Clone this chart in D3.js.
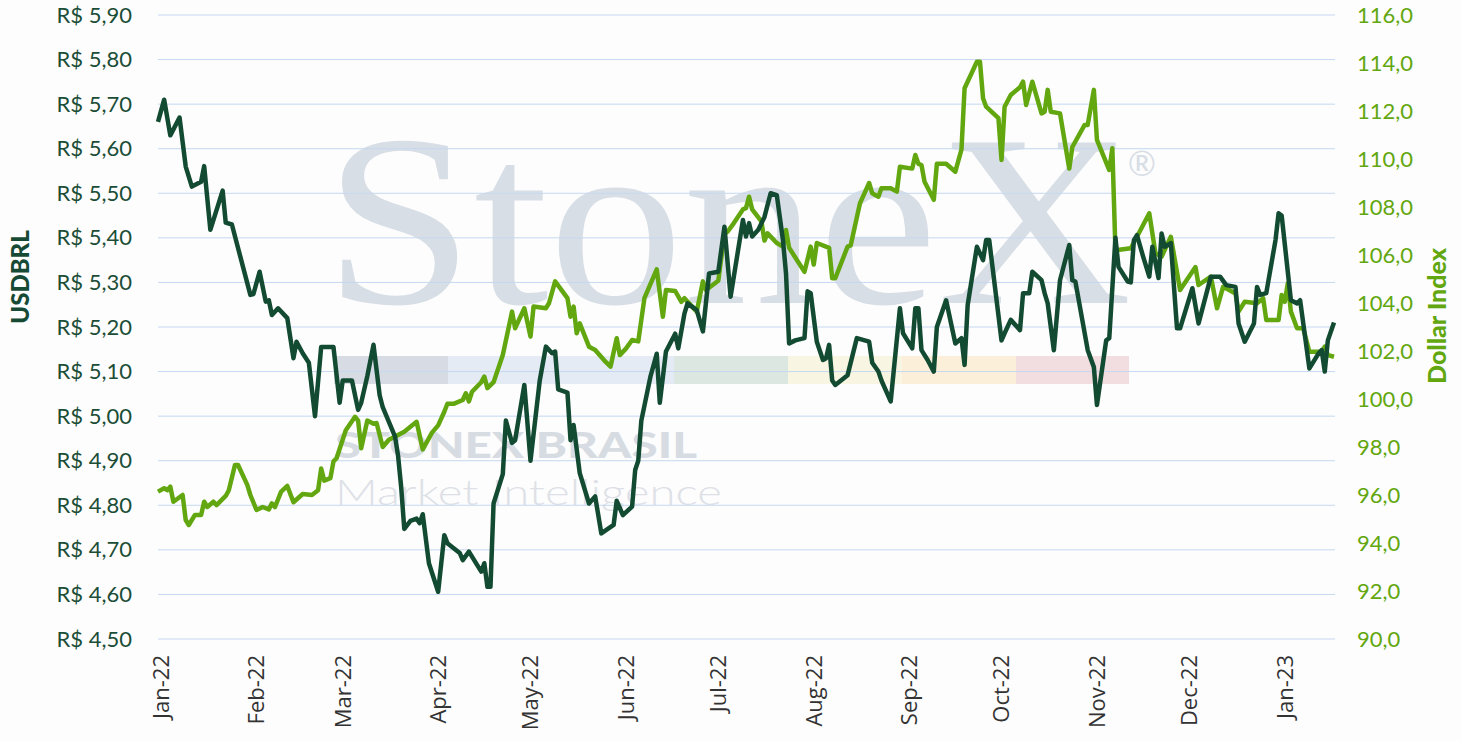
<!DOCTYPE html>
<html>
<head>
<meta charset="utf-8">
<script src="https://cdn.jsdelivr.net/npm/d3@7"></script>
<style>
  body { margin: 0; background: #fdfdfd; }
  svg { display: block; }
  text { font-family: Lato, "Open Sans", sans-serif; }
</style>
</head>
<body>
<svg id="chart"></svg>
<script>
// USDBRL (left axis)
const usdDates = [
  "2022-01-03","2022-01-05","2022-01-07","2022-01-10","2022-01-12","2022-01-14","2022-01-17","2022-01-18","2022-01-20","2022-01-24",
  "2022-01-25","2022-01-27","2022-02-02","2022-02-03","2022-02-05","2022-02-07","2022-02-08","2022-02-09","2022-02-11","2022-02-14",
  "2022-02-16","2022-02-17","2022-02-19","2022-02-21","2022-02-23","2022-02-25","2022-02-28","2022-03-01","2022-03-03","2022-03-04",
  "2022-03-07","2022-03-09","2022-03-10","2022-03-12","2022-03-14","2022-03-16","2022-03-17","2022-03-21","2022-03-22","2022-03-23",
  "2022-03-24","2022-03-26","2022-03-28","2022-03-29","2022-03-30","2022-04-01","2022-04-04","2022-04-06","2022-04-07","2022-04-11",
  "2022-04-12","2022-04-14","2022-04-18","2022-04-19","2022-04-20","2022-04-21","2022-04-22","2022-04-25","2022-04-26","2022-04-28",
  "2022-04-29","2022-05-02","2022-05-04","2022-05-06","2022-05-07","2022-05-09","2022-05-11","2022-05-12","2022-05-13","2022-05-16",
  "2022-05-17","2022-05-18","2022-05-20","2022-05-23","2022-05-25","2022-05-27","2022-05-31","2022-06-01","2022-06-03","2022-06-06",
  "2022-06-07","2022-06-08","2022-06-09","2022-06-12","2022-06-14","2022-06-15","2022-06-17","2022-06-20","2022-06-21","2022-06-23",
  "2022-06-24","2022-06-27","2022-06-29","2022-07-01","2022-07-04","2022-07-06","2022-07-08","2022-07-12","2022-07-13","2022-07-14",
  "2022-07-15","2022-07-17","2022-07-19","2022-07-21","2022-07-23","2022-07-25","2022-07-26","2022-07-27","2022-07-29","2022-08-01",
  "2022-08-02","2022-08-03","2022-08-05","2022-08-07","2022-08-08","2022-08-09","2022-08-10","2022-08-11","2022-08-15","2022-08-18",
  "2022-08-22","2022-08-23","2022-08-25","2022-08-26","2022-08-29","2022-09-01","2022-09-02","2022-09-05","2022-09-06","2022-09-07",
  "2022-09-08","2022-09-10","2022-09-12","2022-09-13","2022-09-16","2022-09-19","2022-09-21","2022-09-22","2022-09-23","2022-09-26",
  "2022-09-28","2022-09-29","2022-09-30","2022-10-04","2022-10-05","2022-10-07","2022-10-10","2022-10-11","2022-10-13","2022-10-14",
  "2022-10-17","2022-10-18","2022-10-19","2022-10-21","2022-10-23","2022-10-26","2022-10-27","2022-10-28","2022-11-01","2022-11-03",
  "2022-11-04","2022-11-07","2022-11-08","2022-11-10","2022-11-11","2022-11-14","2022-11-15","2022-11-16","2022-11-17","2022-11-19",
  "2022-11-21","2022-11-22","2022-11-24","2022-11-25","2022-11-26","2022-11-28","2022-11-30","2022-12-01","2022-12-05","2022-12-07",
  "2022-12-11","2022-12-14","2022-12-16","2022-12-19","2022-12-20","2022-12-22","2022-12-25","2022-12-26","2022-12-27","2022-12-29",
  "2023-01-01","2023-01-02","2023-01-03","2023-01-06","2023-01-08","2023-01-09","2023-01-12","2023-01-15","2023-01-16","2023-01-17",
  "2023-01-18","2023-01-20"
];
const usdValues = [
  5.66,5.71,5.63,5.67,5.56,5.515,5.526,5.561,5.418,5.506,
  5.434,5.43,5.272,5.274,5.324,5.257,5.26,5.227,5.242,5.22,
  5.13,5.167,5.141,5.12,5.00,5.155,5.155,5.155,5.03,5.08,
  5.08,5.014,5.03,5.09,5.16,5.047,5.02,4.954,4.91,4.84,
  4.747,4.765,4.77,4.76,4.78,4.67,4.606,4.733,4.715,4.693,
  4.677,4.696,4.651,4.67,4.617,4.617,4.804,4.87,4.99,4.94,
  4.946,5.07,4.90,5.02,5.08,5.156,5.141,5.145,5.06,5.053,
  4.946,4.98,4.872,4.804,4.82,4.737,4.756,4.81,4.778,4.797,
  4.879,4.90,4.99,5.09,5.14,5.03,5.145,5.185,5.152,5.23,
  5.253,5.238,5.19,5.32,5.324,5.425,5.268,5.44,5.403,5.433,
  5.403,5.418,5.447,5.50,5.496,5.395,5.32,5.163,5.17,5.175,
  5.28,5.276,5.167,5.126,5.13,5.16,5.08,5.07,5.092,5.175,
  5.167,5.12,5.10,5.08,5.033,5.242,5.186,5.152,5.242,5.242,
  5.148,5.126,5.10,5.20,5.26,5.163,5.175,5.115,5.249,5.38,
  5.35,5.395,5.395,5.17,5.186,5.216,5.193,5.276,5.276,5.324,
  5.305,5.276,5.253,5.148,5.305,5.384,5.305,5.302,5.148,5.11,
  5.025,5.17,5.175,5.40,5.335,5.302,5.30,5.395,5.406,5.358,
  5.313,5.38,5.31,5.41,5.38,5.388,5.197,5.197,5.287,5.208,
  5.313,5.313,5.294,5.29,5.208,5.167,5.208,5.29,5.272,5.276,
  5.395,5.455,5.45,5.26,5.253,5.26,5.107,5.141,5.148,5.10,
  5.17,5.21
];

// Dollar Index (right axis)
const dxyDates = [
  "2022-01-03","2022-01-05","2022-01-06","2022-01-07","2022-01-08","2022-01-11","2022-01-12","2022-01-13","2022-01-15","2022-01-17",
  "2022-01-18","2022-01-19","2022-01-21","2022-01-22","2022-01-25","2022-01-26","2022-01-28","2022-01-29","2022-02-01","2022-02-02",
  "2022-02-04","2022-02-06","2022-02-08","2022-02-09","2022-02-10","2022-02-12","2022-02-14","2022-02-16","2022-02-19","2022-02-22",
  "2022-02-24","2022-02-25","2022-02-26","2022-02-28","2022-03-01","2022-03-02","2022-03-05","2022-03-08","2022-03-09","2022-03-10",
  "2022-03-12","2022-03-14","2022-03-15","2022-03-17","2022-03-19","2022-03-24","2022-03-28","2022-03-30","2022-04-02","2022-04-04",
  "2022-04-06","2022-04-07","2022-04-09","2022-04-12","2022-04-13","2022-04-14","2022-04-15","2022-04-18","2022-04-19","2022-04-20",
  "2022-04-22","2022-04-25","2022-04-28","2022-04-29","2022-05-02","2022-05-04","2022-05-05","2022-05-09","2022-05-10","2022-05-12",
  "2022-05-16","2022-05-17","2022-05-18","2022-05-19","2022-05-20","2022-05-23","2022-05-25","2022-05-28","2022-05-30","2022-06-01",
  "2022-06-02","2022-06-04","2022-06-06","2022-06-08","2022-06-10","2022-06-14","2022-06-16","2022-06-17","2022-06-20","2022-06-22",
  "2022-06-23","2022-06-27","2022-06-29","2022-06-30","2022-07-04","2022-07-06","2022-07-07","2022-07-09","2022-07-12","2022-07-13",
  "2022-07-14","2022-07-15","2022-07-18","2022-07-19","2022-07-20","2022-07-23","2022-07-25","2022-07-26","2022-07-27","2022-07-30",
  "2022-08-01","2022-08-03","2022-08-04","2022-08-05","2022-08-09","2022-08-10","2022-08-11","2022-08-15","2022-08-16","2022-08-19",
  "2022-08-22","2022-08-23","2022-08-25","2022-08-26","2022-08-29","2022-08-31","2022-09-01","2022-09-05","2022-09-06","2022-09-07",
  "2022-09-08","2022-09-09","2022-09-12","2022-09-13","2022-09-16","2022-09-19","2022-09-21","2022-09-22","2022-09-26","2022-09-27",
  "2022-09-28","2022-09-29","2022-10-03","2022-10-04","2022-10-05","2022-10-07","2022-10-10","2022-10-11","2022-10-12","2022-10-14",
  "2022-10-17","2022-10-18","2022-10-19","2022-10-20","2022-10-23","2022-10-26","2022-10-27","2022-10-31","2022-11-01","2022-11-03",
  "2022-11-04","2022-11-08","2022-11-09","2022-11-10","2022-11-15","2022-11-17","2022-11-21","2022-11-23","2022-11-25","2022-11-28",
  "2022-12-01","2022-12-06","2022-12-07","2022-12-11","2022-12-13","2022-12-15","2022-12-19","2022-12-20","2022-12-22","2022-12-26",
  "2022-12-28","2022-12-29","2023-01-02","2023-01-03","2023-01-04","2023-01-05","2023-01-06","2023-01-08","2023-01-10","2023-01-12",
  "2023-01-16","2023-01-17","2023-01-18","2023-01-20"
];
const dxyValues = [
  96.14,96.28,96.2,96.35,95.72,96.0,94.96,94.75,95.17,95.17,
  95.72,95.5,95.72,95.58,95.96,96.2,97.25,97.25,96.42,96.0,
  95.375,95.5,95.4,95.65,95.5,96.14,96.375,95.7,96.04,96.0,
  96.2,97.1,96.6,96.7,97.4,97.53,98.7,99.26,99.1,97.95,
  99.1,98.97,99.0,98.0,98.3,98.64,99.05,97.9,98.6,98.9,
  99.47,99.8,99.8,99.96,100.24,99.9,100.3,100.7,100.93,100.45,
  100.7,101.83,103.64,102.95,103.78,102.6,103.85,103.78,103.99,104.9,
  104.2,103.43,103.85,102.74,103.15,102.18,102.04,101.6,101.35,102.53,
  101.83,102.1,102.46,102.4,104.2,105.4,103.43,104.54,104.5,104.05,
  104.2,103.64,104.9,104.54,104.93,106.9,106.97,107.32,107.9,107.95,
  108.43,107.9,107.4,106.6,106.9,106.5,106.35,107.04,106.3,105.7,
  105.3,106.35,105.6,106.5,106.3,105.03,105.03,106.35,106.4,108.15,
  109.0,108.57,108.43,108.78,108.78,108.64,109.68,109.6,110.17,109.8,
  109.75,109.05,108.3,109.8,109.8,109.47,110.4,112.95,114.05,114.05,
  112.53,112.18,111.7,109.96,112.18,112.67,112.99,113.22,112.25,113.22,
  111.9,111.97,112.88,111.97,111.9,109.6,110.5,111.42,111.42,112.88,
  110.8,109.54,110.45,106.2,106.28,106.76,107.74,106.07,105.93,106.76,
  104.54,105.5,104.75,105.1,103.78,104.68,104.4,103.64,104.05,103.99,
  104.2,103.29,103.29,104.33,104.05,104.82,103.64,102.95,102.95,101.97,
  101.97,102.18,101.83,101.76
];

const monthTicks = ["2022-01-01","2022-02-01","2022-03-01","2022-04-01","2022-05-01","2022-06-01","2022-07-01",
                    "2022-08-01","2022-09-01","2022-10-01","2022-11-01","2022-12-01","2023-01-01"];
const leftTicks = [4.5,4.6,4.7,4.8,4.9,5.0,5.1,5.2,5.3,5.4,5.5,5.6,5.7,5.8,5.9];
const rightTicks = [90,92,94,96,98,100,102,104,106,108,110,112,114,116];
const watermarkBands = ["#d7dce4","#e4ebf5","#dde7e1","#f8f5e2","#fcefd9","#f2dde0"];
const bandEdges = [334,448,674,788,902,1016,1129];

const width = 1461, height = 741;
const margin = {top: 15, right: 127, bottom: 102, left: 158};
const parse = d3.timeParse("%Y-%m-%d");

const x = d3.scaleTime()
    .domain([parse("2022-01-03"), parse("2023-01-20")])
    .range([margin.left, width - margin.right]);
const yL = d3.scaleLinear().domain([4.5, 5.9]).range([height - margin.bottom, margin.top]);
const yR = d3.scaleLinear().domain([90, 116]).range([height - margin.bottom, margin.top]);

const usd = usdDates.map((d, i) => ({date: parse(d), value: usdValues[i]}));
const dxy = dxyDates.map((d, i) => ({date: parse(d), value: dxyValues[i]}));

const svg = d3.select("#chart").attr("width", width).attr("height", height);

// watermark
const wm = svg.append("g");
wm.selectAll("rect")
  .data(watermarkBands)
  .join("rect")
    .attr("x", (d, i) => bandEdges[i])
    .attr("width", (d, i) => bandEdges[i + 1] - bandEdges[i])
    .attr("y", 356).attr("height", 28)
    .attr("fill", d => d);
wm.append("text")
    .attr("x", 324).attr("y", 303)
    .attr("textLength", 808).attr("lengthAdjust", "spacingAndGlyphs")
    .style("font-family", "'Liberation Serif', 'DejaVu Serif', serif")
    .attr("font-size", 245).attr("fill", "#d8dee6")
    .text("StoneX");
wm.append("text")
    .attr("x", 1142).attr("y", 176).attr("text-anchor", "middle")
    .attr("font-size", 34).attr("fill", "#d8dee6")
    .text("®");
wm.append("text")
    .attr("x", 335).attr("y", 458)
    .attr("textLength", 362).attr("lengthAdjust", "spacingAndGlyphs")
    .attr("font-size", 36).attr("font-weight", 900).attr("fill", "#d7dce3")
    .text("STONEX BRASIL");
wm.append("text")
    .attr("x", 335).attr("y", 505)
    .attr("textLength", 387).attr("lengthAdjust", "spacingAndGlyphs")
    .attr("font-size", 36).attr("font-weight", 300).attr("fill", "#dde1e7")
    .text("Market Intelligence");

// gridlines
svg.append("g")
  .selectAll("line")
  .data(leftTicks)
  .join("line")
    .attr("x1", margin.left).attr("x2", width - margin.right + 1)
    .attr("y1", d => yL(d)).attr("y2", d => yL(d))
    .attr("stroke", "#c5d8f0").attr("stroke-width", 1);

// left axis
const fmtL = d => "R$ " + d.toFixed(2).replace(".", ",");
svg.append("g")
    .attr("transform", `translate(${margin.left - 23},0)`)
    .call(d3.axisLeft(yL).tickValues(leftTicks).tickFormat(fmtL).tickSize(0))
    .call(g => g.select(".domain").remove())
    .call(g => g.selectAll("text")
        .attr("fill", "#1b4d37").attr("font-size", 22)
        .style("font-family", "Lato, sans-serif"));

// right axis
const fmtR = d => d.toFixed(1).replace(".", ",");
svg.append("g")
    .attr("transform", `translate(${width - margin.right + 23},0)`)
    .call(d3.axisRight(yR).tickValues(rightTicks).tickFormat(fmtR).tickSize(0))
    .call(g => g.select(".domain").remove())
    .call(g => g.selectAll("text")
        .attr("x", 0)
        .attr("fill", "#62a70f").attr("font-size", 22)
        .style("font-family", "Lato, sans-serif"));

// x axis, rotated month labels
const fmtX = d3.timeFormat("%b-%y");
svg.append("g")
    .attr("transform", `translate(0,${height - margin.bottom})`)
    .call(d3.axisBottom(x).tickValues(monthTicks.map(parse)).tickFormat(fmtX).tickSize(0))
    .call(g => g.select(".domain").remove())
    .call(g => g.selectAll("text")
        .attr("transform", "rotate(-90)")
        .attr("text-anchor", "end")
        .attr("x", -16).attr("y", 9).attr("dy", "0.35em")
        .attr("fill", "#333").attr("font-size", 22)
        .style("font-family", "'Open Sans', sans-serif"));

// axis titles
svg.append("text")
    .attr("transform", `translate(29,${(margin.top + height - margin.bottom) / 2 - 50}) rotate(-90)`)
    .attr("text-anchor", "middle")
    .attr("font-size", 24).attr("font-weight", 900).attr("fill", "#174a34")
    .text("USDBRL");
svg.append("text")
    .attr("transform", `translate(1446,${(margin.top + height - margin.bottom) / 2 - 11}) rotate(-90)`)
    .attr("text-anchor", "middle")
    .attr("font-size", 25).attr("font-weight", 900).attr("fill", "#62a70f")
    .text("Dollar Index");

// lines
const lineR = d3.line().x(d => x(d.date)).y(d => yR(d.value));
const lineL = d3.line().x(d => x(d.date)).y(d => yL(d.value));

svg.append("path")
    .datum(dxy)
    .attr("fill", "none")
    .attr("stroke", "#62a70f")
    .attr("stroke-width", 4.5)
    .attr("stroke-linejoin", "round")
    .attr("d", lineR);

svg.append("path")
    .datum(usd)
    .attr("fill", "none")
    .attr("stroke", "#124a32")
    .attr("stroke-width", 4.5)
    .attr("stroke-linejoin", "round")
    .attr("d", lineL);
</script>
</body>
</html>
